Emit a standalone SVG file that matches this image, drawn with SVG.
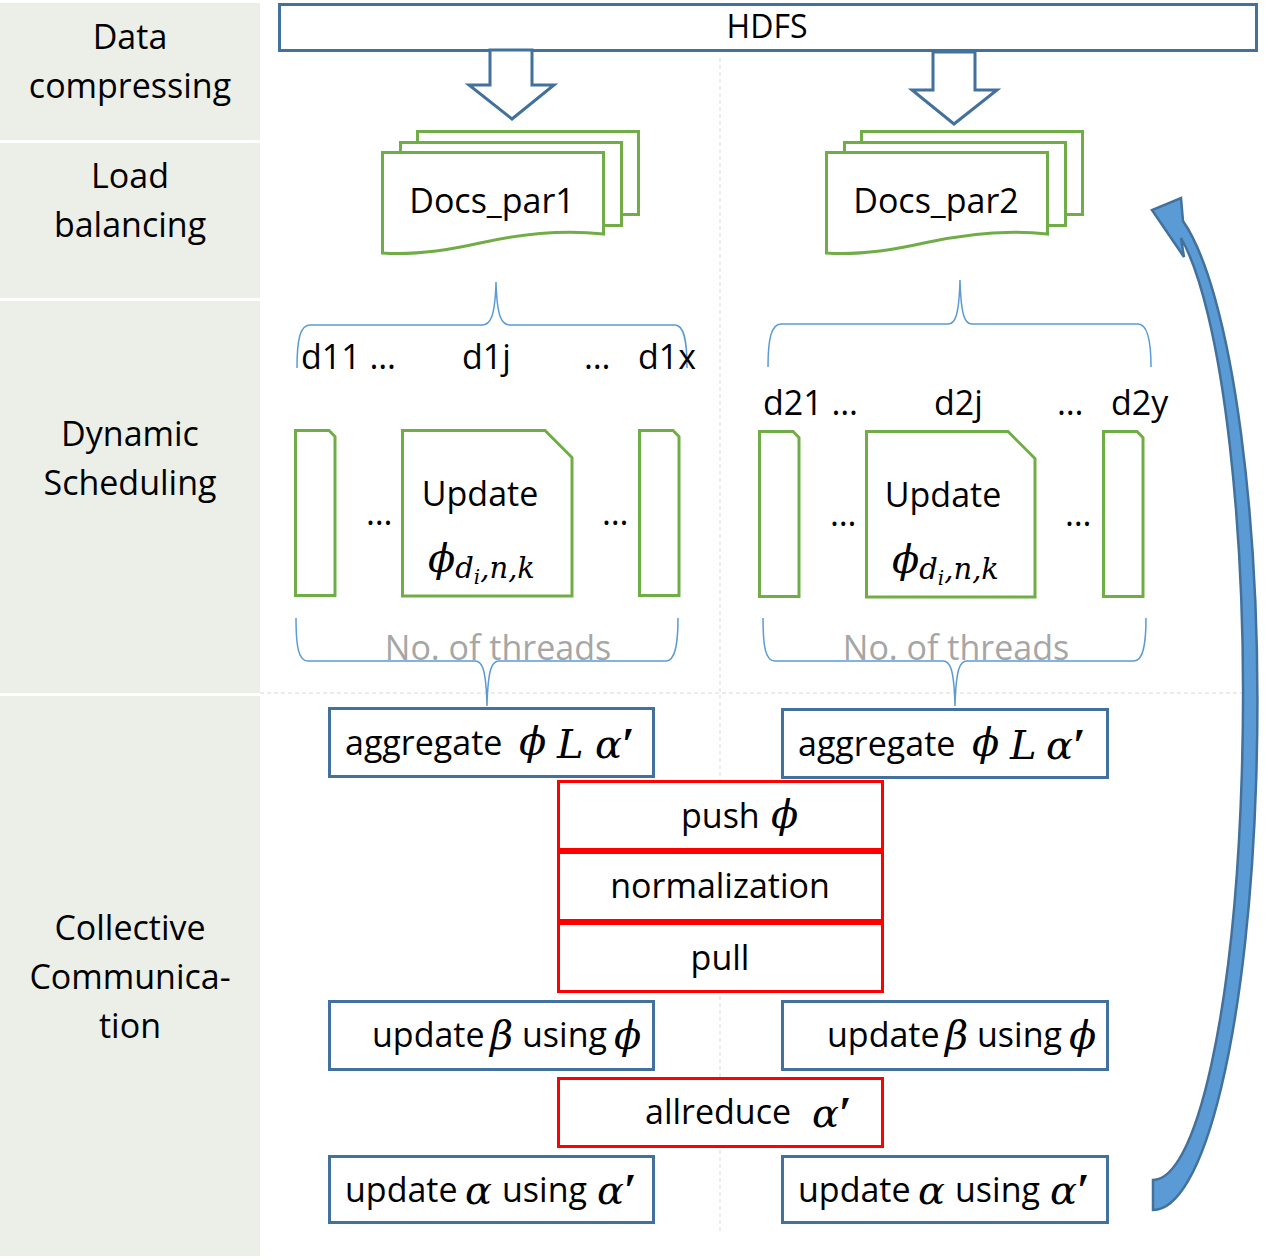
<svg xmlns="http://www.w3.org/2000/svg" width="1268" height="1260" viewBox="0 0 1268 1260">
<style>
.t{font-family:"Open Sans","Noto Sans","DejaVu Sans",sans-serif;font-size:34px;fill:#000}
.c{text-anchor:middle}
.m{font-family:"DejaVu Serif","Liberation Serif",serif;font-style:italic;font-size:40px;fill:#000}
.p{font-family:"Liberation Serif","DejaVu Serif",serif;font-style:normal;font-weight:bold;font-size:46px}
.panel{fill:#EBEFE8}
.blue{fill:#fff;stroke:#41719C;stroke-width:3}
.red{fill:#fff;stroke:#FF0000;stroke-width:3}
.green{fill:#fff;stroke:#70AD47;stroke-width:3}
.brace{fill:none;stroke:#5B9BD5;stroke-width:1.5}
.guide{fill:none;stroke:#D9D9D9;stroke-width:1;stroke-dasharray:4 3}
.gray{fill:#A6A6A6}
</style>
<rect width="1268" height="1260" fill="#fff"/>
<g id="phases">
<rect class="panel" x="0" y="3" width="260" height="137"/>
<rect class="panel" x="0" y="143" width="260" height="155"/>
<rect class="panel" x="0" y="301" width="260" height="392"/>
<rect class="panel" x="0" y="696" width="260" height="560"/>
<text class="t c" x="130" y="49">Data</text>
<text class="t c" x="130" y="98">compressing</text>
<text class="t c" x="130" y="188">Load</text>
<text class="t c" x="130" y="237">balancing</text>
<text class="t c" x="130" y="446">Dynamic</text>
<text class="t c" x="130" y="495">Scheduling</text>
<text class="t c" x="130" y="940">Collective</text>
<text class="t c" x="130" y="989">Communica-</text>
<text class="t c" x="130" y="1038">tion</text>
</g>
<g id="guides">
<path class="guide" d="M260,693 H1258"/>
<path class="guide" d="M720,58 V1232"/>
</g>
<g id="hdfs">
<rect class="blue" x="279.5" y="4.5" width="977" height="46"/>
<text class="t c" x="767" y="38" style="font-size:32px">HDFS</text>
</g>
<g id="connectors">
<polygon class="blue" points="490,50 490,85 469,85 512,119 554,85 532,85 532,50"/>
<polygon class="blue" points="933,52 933,90 912,90 954,124 997,90 975,90 975,52"/>
<path class="brace" d="M297,368 C297,340 300,325 310,325 H482 C490,325 495,318 496,282 C497,318 502,325 510,325 H675 C684,325 687,340 687,368"/>
<path class="brace" d="M768,367 C768,340 771,324 781,324 H948 C955,324 959,316 960,280 C961,316 965,324 972,324 H1138 C1147,324 1151,340 1151,367"/>
<path class="brace" d="M296,618 C296,645 298,661 308,661 H475 C482,661 486,668 487,706 C488,668 492,661 499,661 H666 C675,661 678,645 678,618"/>
<path class="brace" d="M763,618 C763,645 765,661 775,661 H943 C950,661 954,668 955,706 C956,668 960,661 967,661 H1134 C1143,661 1146,645 1146,618"/>
<path d="M1153,1210 A104,505 0 0 0 1183,221 L1181,198 L1152,210 L1184,257 L1181,238 A90,483 0 0 1 1153,1180 Z" fill="#5B9BD5" stroke="#41719C" stroke-width="2.5" stroke-linejoin="miter"/>
</g>
<g id="docs1">
<rect class="green" x="417.5" y="131.5" width="221" height="83"/>
<rect class="green" x="400.5" y="142.5" width="221" height="83"/>
<path class="green" d="M382.5,152.5 H603.5 V234 C560,229 520,234 480,243 C440,252 410,255 382.5,253 Z"/>
<text class="t c" x="492" y="213">Docs_par1</text>
</g>
<g id="docs2">
<rect class="green" x="861.5" y="131.5" width="221" height="83"/>
<rect class="green" x="844.5" y="142.5" width="221" height="83"/>
<path class="green" d="M826.5,152.5 H1047.5 V234 C1004,229 964,234 924,243 C884,252 854,255 826.5,253 Z"/>
<text class="t c" x="936" y="213">Docs_par2</text>
</g>
<g id="labels1">
<text class="t" x="301" y="369">d11 …</text>
<text class="t" x="462" y="369">d1j</text>
<text class="t" x="584" y="369">…</text>
<text class="t" x="638" y="369">d1x</text>
</g>
<g id="labels2">
<text class="t" x="763" y="415">d21 …</text>
<text class="t" x="934" y="415">d2j</text>
<text class="t" x="1057" y="415">…</text>
<text class="t" x="1111" y="415">d2y</text>
</g>
<g id="threads1">
<path class="green" d="M295.5,430.5 H329 L335,436.5 V595.5 H295.5 Z"/>
<path class="green" d="M402.5,430.5 H545 L572,457.5 V596 H402.5 Z"/>
<path class="green" d="M639.5,430.5 H673 L679,436.5 V595.5 H639.5 Z"/>
<text class="t" x="366" y="525">…</text>
<text class="t" x="602" y="525">…</text>
<text class="t c" x="480" y="506">Update</text>
<text class="m" x="428" y="572">ϕ<tspan font-size="29" dy="6">d</tspan><tspan font-size="20" dy="6">i</tspan><tspan font-size="29" dy="-6">,n,k</tspan></text>
<text class="t gray c" x="498" y="660">No. of threads</text>
</g>
<g id="threads2">
<path class="green" d="M759.5,431.5 H793 L799,437.5 V596.5 H759.5 Z"/>
<path class="green" d="M866.5,431.5 H1008 L1035,458.5 V597 H866.5 Z"/>
<path class="green" d="M1103.5,431.5 H1137 L1143,437.5 V596.5 H1103.5 Z"/>
<text class="t" x="830" y="526">…</text>
<text class="t" x="1065" y="526">…</text>
<text class="t c" x="943" y="507">Update</text>
<text class="m" x="892" y="573">ϕ<tspan font-size="29" dy="6">d</tspan><tspan font-size="20" dy="6">i</tspan><tspan font-size="29" dy="-6">,n,k</tspan></text>
<text class="t gray c" x="956" y="660">No. of threads</text>
</g>
<g id="aggregate1">
<rect class="blue" x="329.5" y="708.5" width="324" height="68"/>
<text class="t" x="345" y="755">aggregate</text>
<text class="m" x="519" y="755">ϕ</text>
<text class="m" x="557" y="758">L</text>
<text class="m" x="595" y="758">α<tspan class="p" dx="0" dy="2">′</tspan></text>
</g>
<g id="aggregate2">
<rect class="blue" x="782.5" y="709.5" width="325" height="68"/>
<text class="t" x="798" y="756">aggregate</text>
<text class="m" x="972" y="756">ϕ</text>
<text class="m" x="1010" y="759">L</text>
<text class="m" x="1046" y="759">α<tspan class="p" dx="0" dy="2">′</tspan></text>
</g>
<g id="push">
<rect class="red" x="558.5" y="781.5" width="324" height="68"/>
<text class="t" x="681" y="828">push</text>
<text class="m" x="771" y="828">ϕ</text>
</g>
<g id="normalization">
<rect class="red" x="558.5" y="852.5" width="324" height="68"/>
<text class="t c" x="720" y="898">normalization</text>
</g>
<g id="pull">
<rect class="red" x="558.5" y="923.5" width="324" height="68"/>
<text class="t c" x="720" y="970">pull</text>
</g>
<g id="updatebeta1">
<rect class="blue" x="329.5" y="1001.5" width="324" height="68"/>
<text class="t" x="372" y="1047">update</text>
<text class="m" x="490" y="1049">β</text>
<text class="t" x="522" y="1047">using</text>
<text class="m" x="614" y="1049">ϕ</text>
</g>
<g id="updatebeta2">
<rect class="blue" x="782.5" y="1001.5" width="325" height="68"/>
<text class="t" x="827" y="1047">update</text>
<text class="m" x="945" y="1049">β</text>
<text class="t" x="977" y="1047">using</text>
<text class="m" x="1069" y="1049">ϕ</text>
</g>
<g id="allreduce">
<rect class="red" x="558.5" y="1078.5" width="324" height="68"/>
<text class="t" x="645" y="1124">allreduce</text>
<text class="m" x="812" y="1127">α<tspan class="p" dx="0" dy="2">′</tspan></text>
</g>
<g id="updatealpha1">
<rect class="blue" x="329.5" y="1156.5" width="324" height="66"/>
<text class="t" x="345" y="1202">update</text>
<text class="m" x="465" y="1204">α</text>
<text class="t" x="502" y="1202">using</text>
<text class="m" x="597" y="1204">α<tspan class="p" dx="0" dy="2">′</tspan></text>
</g>
<g id="updatealpha2">
<rect class="blue" x="782.5" y="1156.5" width="325" height="66"/>
<text class="t" x="798" y="1202">update</text>
<text class="m" x="918" y="1204">α</text>
<text class="t" x="955" y="1202">using</text>
<text class="m" x="1050" y="1204">α<tspan class="p" dx="0" dy="2">′</tspan></text>
</g>
</svg>
